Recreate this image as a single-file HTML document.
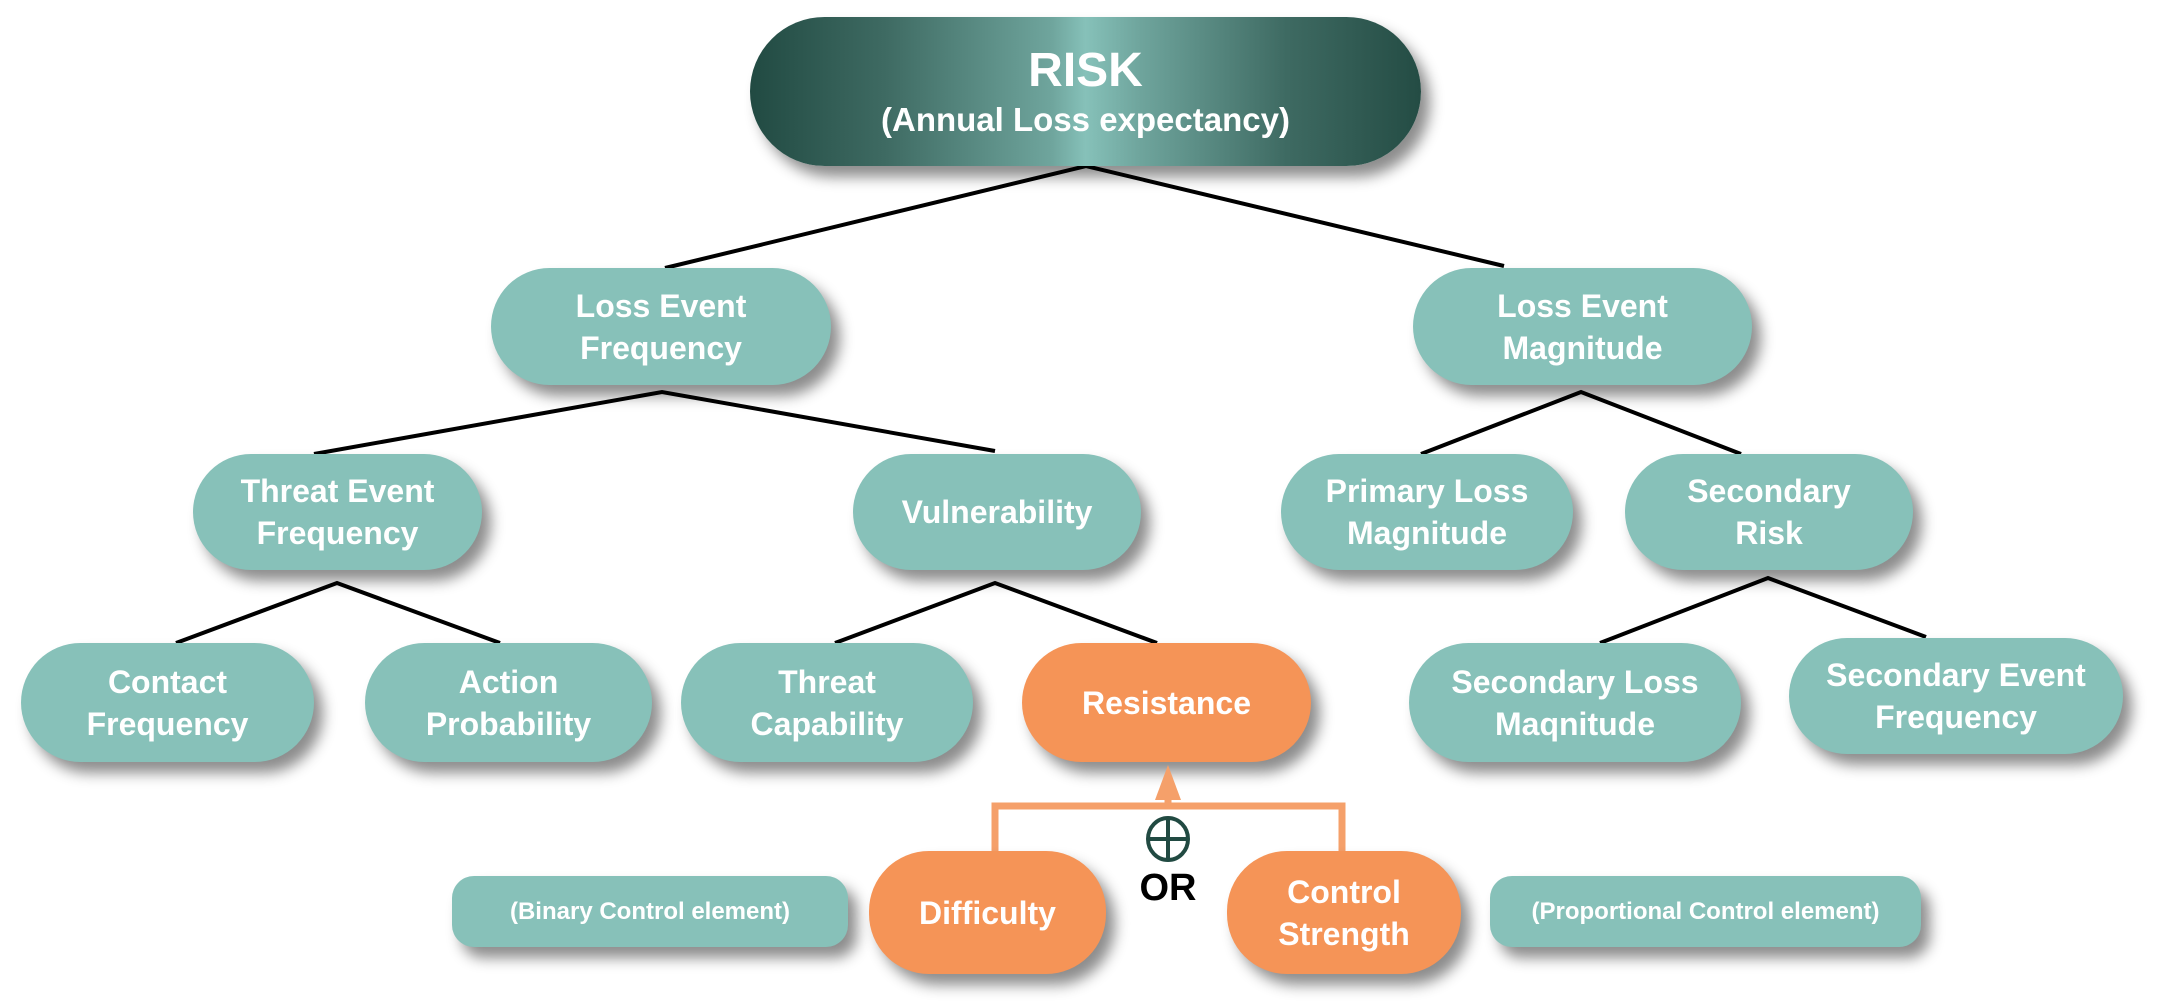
<!DOCTYPE html>
<html><head><meta charset="utf-8"><style>
body{margin:0;width:2158px;height:1008px;background:#fff;position:relative;overflow:hidden;font-family:"Liberation Sans",Arial,sans-serif;}
.n{position:absolute;display:flex;align-items:center;justify-content:center;text-align:center;color:#fff;font-weight:bold;font-size:32px;line-height:42px;background:#87C1B9;border-radius:60px;box-shadow:9px 11px 14px rgba(0,0,0,.45);}
.o{background:#F59457;}
.s{font-size:24px;border-radius:22px;}
svg{position:absolute;left:0;top:0;}
</style></head><body>
<svg width="2158" height="1008">
<g stroke="#000" stroke-width="4" fill="none">
<polyline points="665,268 1086,166 1504,266"/>
<polyline points="314,454 662,392 995,451"/>
<polyline points="1421,454 1581,392 1741,454"/>
<polyline points="176,643 337,583 500,643"/>
<polyline points="835,643 995,583 1157,643"/>
<polyline points="1600,643 1768,578 1926,637"/>
</g>
</svg>
<div class="n" style="left:750px;top:17px;width:671px;height:149px;border-radius:75px;background:linear-gradient(90deg,#214A42 0%,#3E6A62 20%,#6FA59D 45%,#86C1B9 50%,#6FA59D 58%,#3E6A62 80%,#244C44 100%);flex-direction:column;">
<div style="font-size:48px;line-height:56px;">RISK</div><div style="font-size:33px;line-height:42px;">(Annual Loss expectancy)</div></div>
<div class="n" style="left:491px;top:268px;width:340px;height:117px;">Loss Event<br>Frequency</div>
<div class="n" style="left:1413px;top:268px;width:339px;height:117px;">Loss Event<br>Magnitude</div>
<div class="n" style="left:193px;top:454px;width:289px;height:116px;">Threat Event<br>Frequency</div>
<div class="n" style="left:853px;top:454px;width:288px;height:116px;">Vulnerability</div>
<div class="n" style="left:1281px;top:454px;width:292px;height:116px;">Primary Loss<br>Magnitude</div>
<div class="n" style="left:1625px;top:454px;width:288px;height:116px;">Secondary<br>Risk</div>
<div class="n" style="left:21px;top:643px;width:293px;height:119px;">Contact<br>Frequency</div>
<div class="n" style="left:365px;top:643px;width:287px;height:119px;">Action<br>Probability</div>
<div class="n" style="left:681px;top:643px;width:292px;height:119px;">Threat<br>Capability</div>
<div class="n o" style="left:1022px;top:643px;width:289px;height:119px;">Resistance</div>
<div class="n" style="left:1409px;top:643px;width:332px;height:119px;">Secondary Loss<br>Maqnitude</div>
<div class="n" style="left:1789px;top:638px;width:334px;height:116px;">Secondary Event<br>Frequency</div>
<svg width="2158" height="1008">
<g stroke="#F5A06A" stroke-width="7" fill="none">
<polyline points="995,852 995,806 1342,806 1342,852"/>
<line x1="1168" y1="806" x2="1168" y2="790"/>
</g>
<polygon points="1168,765 1155,800 1181,800" fill="#F5A06A"/>
<ellipse cx="1168" cy="839" rx="20" ry="21" fill="none" stroke="#214A42" stroke-width="4"/>
<line x1="1168" y1="818" x2="1168" y2="860" stroke="#214A42" stroke-width="4"/>
<line x1="1148" y1="839" x2="1188" y2="839" stroke="#214A42" stroke-width="4"/>
<text x="1168" y="900" text-anchor="middle" font-family="Liberation Sans, Arial, sans-serif" font-weight="bold" font-size="38">OR</text>
</svg>
<div class="n s" style="left:452px;top:876px;width:396px;height:71px;">(Binary Control element)</div>
<div class="n o" style="left:869px;top:851px;width:237px;height:123px;">Difficulty</div>
<div class="n o" style="left:1227px;top:851px;width:234px;height:123px;">Control<br>Strength</div>
<div class="n s" style="left:1490px;top:876px;width:431px;height:71px;">(Proportional Control element)</div>
</body></html>
